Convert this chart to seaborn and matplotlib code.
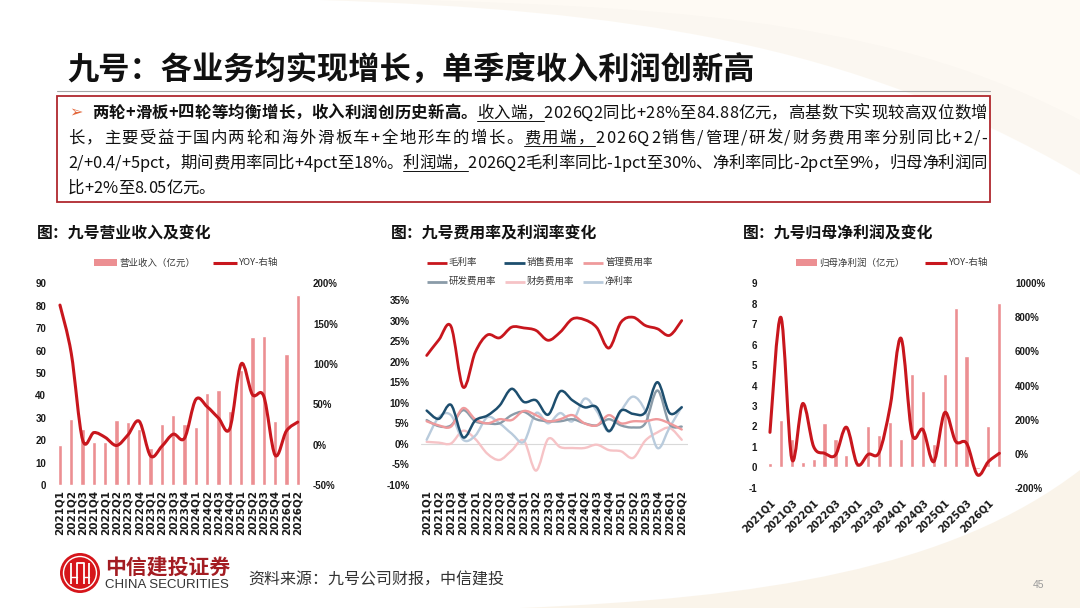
import matplotlib
matplotlib.use("Agg")
import numpy as np
import matplotlib.pyplot as plt
import seaborn as sns
from matplotlib.path import Path
from matplotlib.patches import PathPatch, Rectangle, Circle

# ------------------------------------------------------------------
# data (quarterly, 2021Q1 - 2026Q2)
# ------------------------------------------------------------------
quarters = ["2021Q1", "2021Q2", "2021Q3", "2021Q4", "2022Q1", "2022Q2",
            "2022Q3", "2022Q4", "2023Q1", "2023Q2", "2023Q3", "2023Q4",
            "2024Q1", "2024Q2", "2024Q3", "2024Q4", "2025Q1", "2025Q2",
            "2025Q3", "2025Q4", "2026Q1", "2026Q2"]

# chart 1: revenue (亿元) and yoy (%)
revenue = [17.9, 29.5, 25.0, 19.3, 19.0, 29.0, 28.0, 25.0, 16.7, 27.2, 31.4,
           27.0, 25.7, 41.2, 42.4, 32.9, 51.1, 65.9, 66.5, 28.7, 58.6, 84.88]
revenue_yoy = [173, 113, 6, 15, 9, -1, 12, 29, -14, -2, 13, 8, 56, 47, 33,
               20, 100, 62, 60, -13, 17, 28]

# chart 2: margins and expense ratios (%)
gross_margin = [21.5, 25.3, 28.6, 13.8, 22.3, 26.5, 25.8, 28.4, 28.2, 27.6, 25.2,
                27.2, 30.4, 30.2, 28.3, 23.3, 29.6, 30.8, 28.8, 28.0, 26.4, 30.0]
selling_ratio = [8.1, 6.1, 9.5, 1.6, 5.7, 6.9, 9.3, 13.4, 10.2, 10.6, 7.1,
                 12.8, 10.6, 8.9, 8.9, 3.1, 8.1, 7.3, 7.7, 15.0, 7.5, 8.9]
admin_ratio = [5.5, 4.5, 4.2, 8.7, 6.0, 5.0, 6.0, 5.8, 8.0, 7.0, 5.5, 6.0,
               7.0, 5.0, 4.5, 7.0, 5.0, 5.5, 5.5, 6.0, 5.0, 3.5]
rd_ratio = [5.8, 4.3, 4.5, 8.2, 5.5, 5.0, 5.0, 7.0, 7.8, 6.0, 5.5, 5.5,
            6.0, 5.0, 4.5, 6.0, 4.5, 4.0, 5.0, 13.0, 4.8, 4.2]
finance_ratio = [0.5, 0.3, 0.1, 3.2, 1.2, -2.4, -3.9, -1.6, 0.8, -6.5, 1.2,
                 -0.8, -1.0, -1.0, -0.2, -1.5, -1.8, -3.4, 0.8, 2.8, 3.9, 1.0]
net_margin = [1.0, 6.5, 7.0, 1.0, 2.0, 6.5, 5.0, 2.5, 0.5, 7.5, 5.0, 7.5,
              5.5, 11.0, 8.0, 3.0, 8.0, 11.5, 8.0, -1.0, 4.0, 9.0]

# chart 3: net profit attributable (亿元) and yoy (%)
net_profit = [0.23, 2.30, 1.37, 0.25, 0.38, 2.15, 1.37, 0.59, 0.10, 2.04, 1.57,
              2.20, 1.37, 4.58, 3.72, 1.16, 4.55, 7.80, 5.42, -0.10, 2.04, 8.05]
profit_yoy = [125, 800, -31, 294, 41, 2, -8, 155, -63, -4, 8, 276, 677, 119,
              141, -47, 241, 72, 61, -125, -47, 2]

# ------------------------------------------------------------------
W, H = 1080, 608
BAR = "#ec8f92"
RED = "#c8161d"
C_SELL = "#1d4e6e"
C_ADMIN = "#ef9a9c"
C_RD = "#8a9ba8"
C_FIN = "#f6c3c6"
C_NET = "#b9cbdc"
TXT = "#3a3a3a"

sns.set_theme(style="white")
FAM = ["Noto Sans CJK SC", "DejaVu Sans"]
plt.rcParams["font.family"] = FAM
plt.rcParams["axes.unicode_minus"] = False

fig = plt.figure(figsize=(W / 100, H / 100), dpi=100)
fig.patch.set_facecolor("white")

# full-figure axes in pixel units for the slide decoration and texts
bg = fig.add_axes([0, 0, 1, 1], zorder=0)
bg.set_xlim(0, W)
bg.set_ylim(H, 0)
bg.axis("off")


def px_axes(x0, y0, x1, y1):
    ax = fig.add_axes([x0 / W, 1 - y1 / H, (x1 - x0) / W, (y1 - y0) / H], zorder=2)
    ax.set_facecolor("none")
    return ax


def smooth(ax, xs, ys, color, lw, z=3):
    # excel-like smoothed line (catmull-rom segments as cubic beziers)
    pts = np.column_stack([xs, ys]).astype(float)
    n = len(pts)
    verts, codes = [pts[0]], [Path.MOVETO]
    for i in range(n - 1):
        p0 = pts[i - 1] if i > 0 else pts[i]
        p1, p2 = pts[i], pts[i + 1]
        p3 = pts[i + 2] if i + 2 < n else pts[i + 1]
        verts += [p1 + (p2 - p0) / 6, p2 - (p3 - p1) / 6, p2]
        codes += [Path.CURVE4] * 3
    ax.add_patch(PathPatch(Path(verts, codes), fill=False, edgecolor=color, lw=lw,
                           capstyle="round", joinstyle="round", zorder=z))


def clean(ax):
    for s in ax.spines.values():
        s.set_visible(False)
    ax.grid(False)
    ax.set_xlabel("")
    ax.set_ylabel("")


def ylabels(ax, ticks, fmt, pad, size=7, weight="bold"):
    ax.set_yticks(ticks)
    ax.set_yticklabels([fmt.format(v) for v in ticks], fontfamily="Liberation Sans",
                       fontweight=weight, fontsize=size, color="#1a1a1a")
    ax.tick_params(axis="y", length=0, pad=pad)


# ---------------- slide background ----------------
top = Path([(320, 0), (620, 10), (850, 40), (1080, 175), (1080, 0), (320, 0)],
           [Path.MOVETO, Path.CURVE4, Path.CURVE4, Path.CURVE4, Path.LINETO, Path.CLOSEPOLY])
bg.add_patch(PathPatch(top, facecolor="#f8efe0", edgecolor="none", alpha=0.45))
top2 = Path([(420, 0), (700, 8), (900, 25), (1080, 120), (1080, 0), (420, 0)],
            [Path.MOVETO, Path.CURVE4, Path.CURVE4, Path.CURVE4, Path.LINETO, Path.CLOSEPOLY])
bg.add_patch(PathPatch(top2, facecolor="#fffbf5", edgecolor="none", alpha=0.8))
bot = Path([(520, 608), (760, 598), (950, 570), (1080, 470), (1080, 608), (520, 608)],
           [Path.MOVETO, Path.CURVE4, Path.CURVE4, Path.CURVE4, Path.LINETO, Path.CLOSEPOLY])
bg.add_patch(PathPatch(bot, facecolor="#f6ead7", edgecolor="none", alpha=0.5))

# ---------------- title + summary box ----------------
bg.text(67, 70, "九号：各业务均实现增长，单季度收入利润创新高", fontsize=22.5,
        fontweight="bold", va="center", ha="left", color="#111111")
bg.plot([57, 990], [90.5, 90.5], color="#a6a6a6", lw=0.8)
bg.add_patch(Rectangle((57, 96), 933, 106, facecolor="white", edgecolor="#b0282e", lw=1.3))

renderer = fig.canvas.get_renderer()
FS_P = 11.8
_adv = {}


def advance(ch, weight):
    key = (ch, weight)
    if key not in _adv:
        t = bg.text(0, 0, "中" + ch + "中", fontsize=FS_P, fontweight=weight, family=FAM)
        w1 = t.get_window_extent(renderer).width
        t.set_text("中中")
        w0 = t.get_window_extent(renderer).width
        t.remove()
        _adv[key] = w1 - w0
    return _adv[key]


def text_line(x0, x1, y, segs, justify=True):
    chars = [(c, w, u) for s, w, u in segs for c in s]
    advs = [advance(c, w) for c, w, u in chars]
    gap = (x1 - x0 - sum(advs)) / (len(chars) - 1) if justify else 0.0
    x = x0
    ul = None
    for (c, w, u), a in zip(chars, advs):
        bg.text(x, y, c, fontsize=FS_P, fontweight=w, family=FAM, va="baseline",
                ha="left", color="#111111")
        if u:
            if ul is None:
                ul = [x, x]
            ul[1] = x + a + gap
        elif ul is not None:
            bg.plot(ul, [y + 3, y + 3], color="#111111", lw=0.7)
            ul = None
        x += a + gap
    if ul is not None:
        bg.plot(ul, [y + 3, y + 3], color="#111111", lw=0.7)


bg.text(69, 118, "➢", fontsize=11.5, color="#e2673b", va="baseline", ha="left",
        family=["DejaVu Sans"])
text_line(92, 987, 117.7, [("两轮+滑板+四轮等均衡增长，收入利润创历史新高。", "bold", False),
                           ("收入端，", "normal", True),
                           ("2026Q2同比+28%至84.88亿元，高基数下实现较高双位数增", "normal", False)])
text_line(68, 987, 142.7, [("长，主要受益于国内两轮和海外滑板车+全地形车的增长。", "normal", False),
                           ("费用端，", "normal", True),
                           ("2026Q2销售/管理/研发/财务费用率分别同比+2/-", "normal", False)])
text_line(68, 987, 167.7, [("2/+0.4/+5pct，期间费用率同比+4pct至18%。", "normal", False),
                           ("利润端，", "normal", True),
                           ("2026Q2毛利率同比-1pct至30%、净利率同比-2pct至9%，归母净利润同", "normal", False)])
text_line(68, 987, 192.7, [("比+2%至8.05亿元。", "normal", False)], justify=False)

# ---------------- chart titles ----------------
for x, s in [(36.7, "图：九号营业收入及变化"), (390.7, "图：九号费用率及利润率变化"),
             (743, "图：九号归母净利润及变化")]:
    bg.text(x, 233, s, fontsize=11.4, fontweight="bold", va="center", ha="left",
            color="#111111")


def leg_patch(x0, x1, y, color, label):
    bg.add_patch(Rectangle((x0, y - 3.5), x1 - x0, 7, facecolor=color, edgecolor="none"))
    bg.text(x1 + 2, y, label, fontsize=6.8, va="center", ha="left", color=TXT)


def leg_line(x0, x1, y, color, label, lw=2.0):
    bg.plot([x0, x1], [y, y], color=color, lw=lw, solid_capstyle="butt")
    bg.text(x1 + 2, y, label, fontsize=6.8, va="center", ha="left", color=TXT)


# ---------------- chart 1: revenue ----------------
ax1 = px_axes(54.3, 283.3, 303.4, 485)
sns.barplot(x=quarters, y=revenue, color=BAR, width=0.38, saturation=1, ax=ax1)
ax1.set_xlim(-0.5, len(quarters) - 0.5)
ax1.set_ylim(0, 90)
clean(ax1)
ylabels(ax1, list(range(0, 91, 10)), "{}", 5.8)
ax1.set_xticks(range(len(quarters)))
ax1.set_xticklabels(quarters, rotation=90, fontfamily="DejaVu Sans", fontweight="bold",
                    fontsize=7.5, color="#1a1a1a")
ax1.tick_params(axis="x", length=0, pad=3.5)
ax1r = ax1.twinx()
ax1r.set_facecolor("none")
ax1r.set_ylim(-50, 200)
smooth(ax1r, range(len(quarters)), revenue_yoy, RED, 2.2)
clean(ax1r)
ylabels(ax1r, list(range(-50, 201, 50)), "{}%", 7)
leg_patch(94, 117, 262.7, BAR, "营业收入（亿元）")
leg_line(213, 237, 262.7, RED, "YOY-右轴", lw=2.2)

# ---------------- chart 2: ratios ----------------
ax2 = px_axes(420.6, 300, 687.8, 485)
ax2.set_xlim(-0.5, len(quarters) - 0.5)
ax2.set_ylim(-10, 35)
ax2.axhline(0, color="#d9d9d9", lw=0.8, zorder=1)
series2 = [(finance_ratio, C_FIN, 1.7), (net_margin, C_NET, 1.7), (rd_ratio, C_RD, 1.7),
           (admin_ratio, C_ADMIN, 1.7), (selling_ratio, C_SELL, 1.8), (gross_margin, RED, 2.0)]
for vals, col, lw in series2:
    smooth(ax2, range(len(quarters)), vals, col, lw)
clean(ax2)
ylabels(ax2, list(range(-10, 36, 5)), "{}%", 8, size=7.2, weight="bold")
ax2.set_xticks(range(len(quarters)))
ax2.set_xticklabels(quarters, rotation=90, fontfamily="DejaVu Sans", fontweight="bold",
                    fontsize=7.5, color="#1a1a1a")
ax2.tick_params(axis="x", length=0, pad=3.5)
leg_line(426.7, 446.7, 262.7, RED, "毛利率")
leg_line(504.3, 525, 262.7, C_SELL, "销售费用率")
leg_line(583.3, 603.3, 262.7, C_ADMIN, "管理费用率")
leg_line(426.7, 446.7, 281.7, C_RD, "研发费用率")
leg_line(505, 525, 281.7, C_FIN, "财务费用率")
leg_line(583, 603, 281.7, C_NET, "净利率")

# ---------------- chart 3: net profit ----------------
ax3 = px_axes(764.5, 283.3, 1004.8, 487.7)
sns.barplot(x=quarters, y=net_profit, color=BAR, width=0.38, saturation=1, ax=ax3)
ax3.set_xlim(-0.5, len(quarters) - 0.5)
ax3.set_ylim(-1, 9)
clean(ax3)
ylabels(ax3, list(range(-1, 10)), "{}", 5.4)
ax3.set_xticks(range(0, len(quarters), 2))
ax3.set_xticklabels(quarters[::2], rotation=45, ha="right", rotation_mode="anchor",
                    fontfamily="DejaVu Sans", fontweight="bold", fontsize=7,
                    color="#1a1a1a")
ax3.tick_params(axis="x", length=0, pad=7)
ax3r = ax3.twinx()
ax3r.set_facecolor("none")
ax3r.set_ylim(-200, 1000)
smooth(ax3r, range(len(quarters)), profit_yoy, RED, 2.2)
clean(ax3r)
ylabels(ax3r, list(range(-200, 1001, 200)), "{}%", 7.3)
leg_patch(796, 816.7, 262.7, BAR, "归母净利润（亿元）")
leg_line(925, 946.7, 262.7, RED, "YOY-右轴", lw=2.2)

# ---------------- footer ----------------
bg.add_patch(Circle((80, 573), 20, facecolor="#d6151b", edgecolor="none"))
bg.add_patch(Circle((80, 573), 16.5, facecolor="none", edgecolor="white", lw=1.0))
for xv in (71, 76.5, 83.5, 89):
    bg.plot([xv, xv], [563, 584], color="white", lw=1.3, solid_capstyle="butt")
bg.plot([76.5, 83.5], [563, 563], color="white", lw=1.3)
bg.plot([71, 76.5], [577, 577], color="white", lw=1.0)
bg.plot([83.5, 89], [577, 577], color="white", lw=1.0)
bg.text(105, 567, "中信建投证券", fontsize=15, fontweight="bold", color="#a31c22",
        va="center", ha="left")
bg.text(105, 585, "CHINA SECURITIES", fontsize=9.5, family=["Liberation Sans"],
        color="#333333", va="center", ha="left")
bg.text(248, 580, "资料来源：九号公司财报，中信建投", fontsize=11.5, color="#333333",
        va="center", ha="left")
bg.text(1033, 585, "45", fontsize=7.5, color="#9a9a9a", va="center", ha="left",
        family=["Liberation Sans"])

fig.savefig("out.png", dpi=100)
